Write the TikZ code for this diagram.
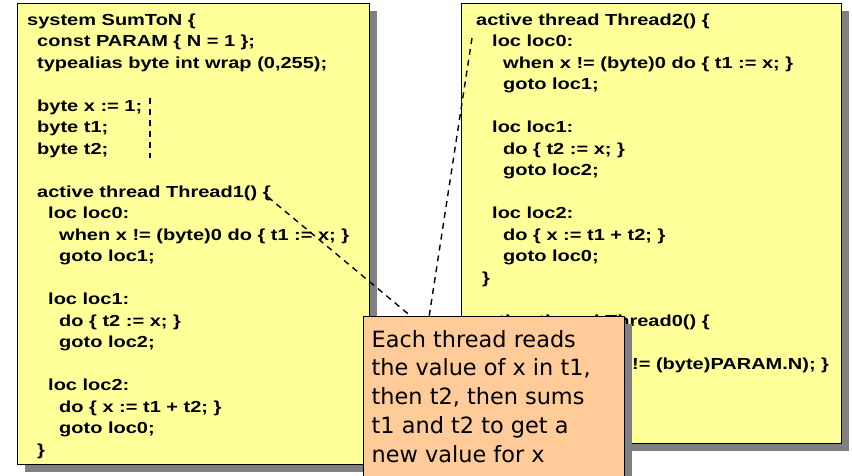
\documentclass[tikz,border=0pt]{standalone}
\usepackage{fontspec}
\setmainfont{Liberation Sans}
\newfontfamily\codefont[FakeStretch=1.25]{Liberation Sans Bold}
\newfontfamily\notefont{DejaVu Sans}
\usetikzlibrary{shadows,calc}

\definecolor{padyellow}{HTML}{FFFF99}
\definecolor{notepeach}{HTML}{FFCC99}
\definecolor{shadegray}{HTML}{808080}

\tikzset{
	boxshade/.style={drop shadow={shadow xshift=8pt, shadow yshift=-8pt, fill=shadegray, opacity=1}},
	codebox/.style={draw=black, line width=0.9pt, fill=padyellow, boxshade, anchor=north west, inner sep=0pt},
	notebox/.style={draw=black, line width=0.9pt, fill=notepeach, boxshade, anchor=north west, inner sep=0pt},
	codetext/.style={anchor=north west, inner sep=0pt, align=left, font=\codefont\fontsize{16}{21.5}\selectfont},
	notetext/.style={anchor=north west, inner sep=0pt, align=left, font=\notefont\fontsize{22.4}{28.7}\selectfont},
	link/.style={dash pattern=on 6pt off 5pt, line width=1.4pt},
}

\begin{document}
\begin{tikzpicture}[x=1pt,y=-1pt]

	\useasboundingbox (0,0) rectangle (852,475);
	\clip (0,0) rectangle (852,475);

	% the two code listings
	\node[codebox, minimum width=352pt, minimum height=461pt] (sysbox) at (17,3) {};
	\node[codebox, minimum width=380pt, minimum height=440pt] (thrbox) at (460.5,2.5) {};

	\node[codetext] (syscode) at (27,13.3) {%
		system SumToN \{\\
		\hspace*{10pt}const PARAM \{ N = 1 \};\\
		\hspace*{10pt}typealias byte int wrap (0,255);\\[21.5pt]
		\hspace*{10pt}byte x := 1;\\
		\hspace*{10pt}byte t1;\\
		\hspace*{10pt}byte t2;\\[21.5pt]
		\hspace*{10pt}active thread Thread1() \{\\
		\hspace*{21pt}loc loc0:\\
		\hspace*{32pt}when x != (byte)0 do \{ t1 := x; \}\\
		\hspace*{32pt}goto loc1;\\[21.5pt]
		\hspace*{21pt}loc loc1:\\
		\hspace*{32pt}do \{ t2 := x; \}\\
		\hspace*{32pt}goto loc2;\\[21.5pt]
		\hspace*{21pt}loc loc2:\\
		\hspace*{32pt}do \{ x := t1 + t2; \}\\
		\hspace*{32pt}goto loc0;\\
		\hspace*{10pt}\}};

	\node[codetext] (thrcode) at (476,13.3) {%
		active thread Thread2() \{\\
		\hspace*{16pt}loc loc0:\\
		\hspace*{27pt}when x != (byte)0 do \{ t1 := x; \}\\
		\hspace*{27pt}goto loc1;\\[21.5pt]
		\hspace*{16pt}loc loc1:\\
		\hspace*{27pt}do \{ t2 := x; \}\\
		\hspace*{27pt}goto loc2;\\[21.5pt]
		\hspace*{16pt}loc loc2:\\
		\hspace*{27pt}do \{ x := t1 + t2; \}\\
		\hspace*{27pt}goto loc0;\\
		\hspace*{6pt}\}\\[21.5pt]
		active thread Thread0() \{\\[21.5pt]
		\hspace*{156pt}!= (byte)PARAM.N); \}};

	% dashed pointers
	\coordinate (decl top) at (150,98);
	\coordinate (decl bot) at (150,158);
	\coordinate (brace1) at (268,197);
	\coordinate (loc0 mark) at (472,38);

	\draw[link] (decl top) -- (decl bot);

	\node[notebox, minimum width=261.3pt, minimum height=180pt] (note) at (362.7,316) {};
	\draw[link] (brace1) -- ($(note.north west)+(48,0)$);
	\draw[link] (loc0 mark) -- ($(note.north west)+(66.5,0)$);

	\node[notetext] (notebody) at (371.5,330) {%
		Each thread reads\\
		the value of x in t1,\\
		then t2, then sums\\
		t1 and t2 to get a\\
		new value for x};

\end{tikzpicture}
\end{document}
